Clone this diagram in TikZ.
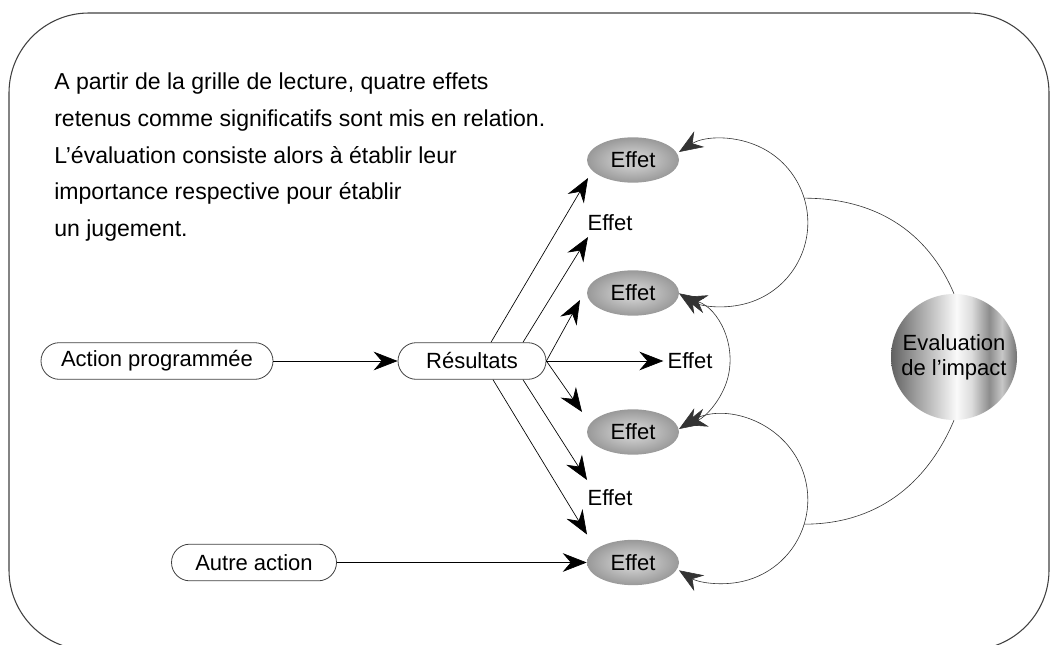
\documentclass[tikz,border=0pt]{standalone}
\usepackage{fontspec}
\setmainfont{Liberation Sans}
\usetikzlibrary{shapes.misc,shapes.geometric,arrows.meta,calc}
\definecolor{mA}{gray}{0.38}
\definecolor{mB}{gray}{0.62}
\definecolor{mC}{gray}{0.98}
\definecolor{mD}{gray}{0.86}
\definecolor{mE}{gray}{0.55}
\definecolor{mF}{gray}{0.78}
\definecolor{mG}{gray}{0.45}
\definecolor{effIn}{gray}{0.78}
\definecolor{effOut}{gray}{0.6}
\pgfdeclarehorizontalshading{metal}{100bp}{color(0bp)=(mA); color(25bp)=(mA); color(35bp)=(mB); color(51bp)=(mC); color(57bp)=(mD); color(64bp)=(mE); color(69bp)=(mF); color(75bp)=(mG); color(100bp)=(mG)}
\pgfdeclareradialshading{effball}{\pgfpoint{0bp}{0bp}}{color(0bp)=(effIn); color(8bp)=(effIn); color(25bp)=(effOut); color(50bp)=(effOut)}
\newcommand\myNodeFont{\fontsize{16.5}{19}\selectfont}
\newcommand\myIntroFont{\fontsize{17.3}{27.5}\selectfont}
\tikzset{
  pill/.style={rounded rectangle, draw=black!75, line width=0.6pt, minimum height=27.5pt, inner sep=0pt, font=\myNodeFont},
  effet/.style={ellipse, shading=effball, minimum width=69pt, minimum height=34pt, inner sep=0pt, font=\myNodeFont},
  lbl/.style={font=\myNodeFont, inner sep=3pt},
  arr/.style={draw=black, line width=0.5pt, -{Stealth[length=18pt,width=14pt,inset=6pt]}},
  curv/.style={draw=black!80, line width=0.45pt, {Stealth[length=18pt,width=14pt,inset=6pt]}-{Stealth[length=18pt,width=14pt,inset=6pt]}},
  link/.style={draw=black!80, line width=0.45pt},
  frame/.style={draw=black!75, line width=0.8pt, rounded corners=60pt},
  evalnode/.style={circle, shading=metal, minimum size=94.5pt, inner sep=0pt, align=center, font=\fontsize{16.5}{18.75}\selectfont}
}
\begin{document}
\begin{tikzpicture}[x=0.75pt,y=0.75pt]
\useasboundingbox (0,0) rectangle (1053,644);
\draw[frame] (9,-6) rectangle (1049,631);

\node[anchor=north west, align=left, inner sep=0pt, font=\myIntroFont] (intro) at (54,571)
  {A partir de la grille de lecture, quatre effets\\
   retenus comme significatifs sont mis en relation.\\
   L’évaluation consiste alors à établir leur\\
   importance respective pour établir\\
   un jugement.};

\node[pill, minimum width=174pt] (ap) at (157,283) {Action programmée};
\node[pill, minimum width=111pt] (res) at (472,283) {Résultats};
\node[pill, minimum width=123.75pt] (aa) at (254,81.5) {Autre action};

\node[effet] (e1) at (633,484) {Effet};
\node[effet] (e2) at (633,351) {Effet};
\node[effet] (e3) at (633,212) {Effet};
\node[effet] (e4) at (633,81.5) {Effet};

\node[lbl] (l1) at (610,421) {Effet};
\node[lbl] (l2) at (690,283) {Effet};
\node[lbl] (l3) at (610,146) {Effet};

\node[evalnode] (ev) at (954,287) {Evaluation\\de l’impact};

% straight arrows
\draw[arr] (ap.east) -- (res.west);
\draw[arr] (aa.east) -- (aa.east -| e4.west);
\draw[arr] (res.east) -- (l2.west);
\draw[arr] ($(res.north)+(19,0)$) -- ($(e1.center)+(-45,-18)$);
\draw[arr] ($(res.north)+(51,0)$) -- ($(l1.center)+(-22,-14)$);
\draw[arr] (res.east) -- ($(e2.center)+(-53,-7)$);
\draw[arr] (res.east) -- ($(e3.center)+(-51,20)$);
\draw[arr] ($(res.south)+(51,0)$) -- ($(l3.center)+(-23,18)$);
\draw[arr] ($(res.south)+(21,0)$) -- ($(e4.center)+(-46,28)$);

% curved links
\draw[curv] ($(e1.center)+(46,8)$) arc[start angle=122.5, end angle=17, radius=83.8]
  coordinate (J1) arc[start angle=17, end angle=-122.5, radius=83.8];
\draw[curv] ($(e2.center)+(50,-4)$) arc[start angle=72.6, end angle=-72.6, radius=67];
\draw[curv] ($(e3.center)+(46,3)$) arc[start angle=122.5, end angle=-17, radius=83.8]
  coordinate (J2) arc[start angle=-17, end angle=-122.5, radius=83.8];
\draw[link] (J1) to[out=0, in=113] (ev.north);
\draw[link] (ev.south) to[out=-113, in=0] (J2);
\end{tikzpicture}
\end{document}
